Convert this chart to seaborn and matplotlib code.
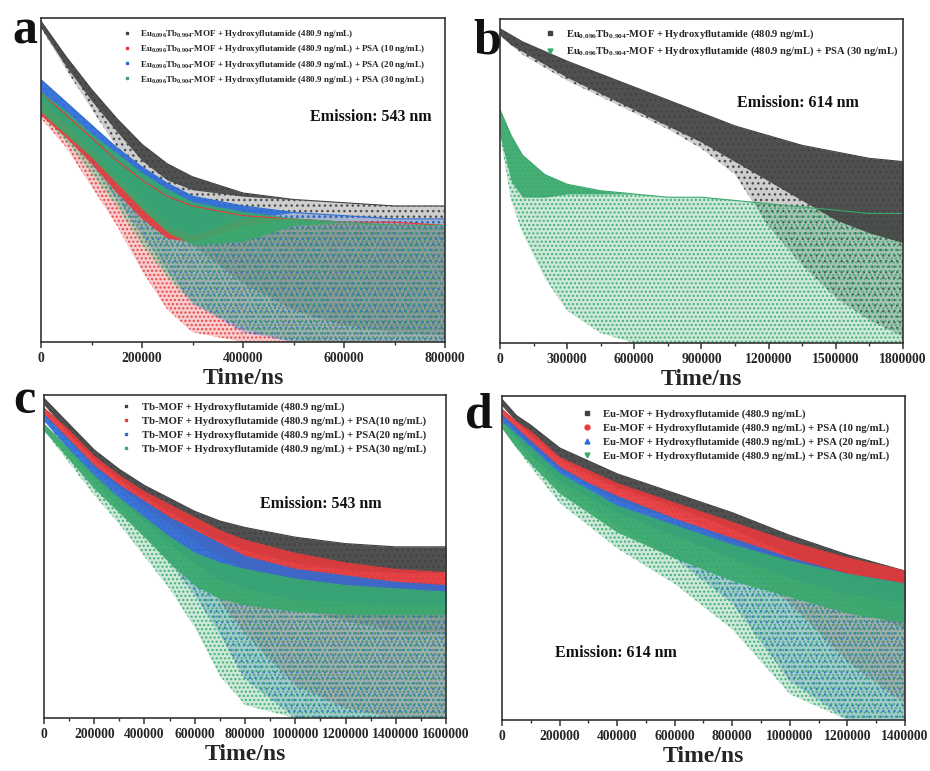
import matplotlib
matplotlib.use("Agg")
import matplotlib.pyplot as plt
from matplotlib.lines import Line2D
from matplotlib.colors import to_rgba
from matplotlib.ticker import MultipleLocator, FuncFormatter
import numpy as np
import seaborn as sns

# ---- data (y = log intensity, normalised to the axis height) ----
# each cloud: hi = upper edge, mid = lower edge of the dense part, lo = lowest scattered points

# panel a (emission 543 nm)
a_time = [0, 50000, 100000, 150000, 200000, 250000, 300000, 400000, 500000, 600000, 700000, 800000]
a_black_hi = [0.99, 0.88, 0.78, 0.69, 0.61, 0.55, 0.51, 0.46, 0.44, 0.43, 0.42, 0.42]
a_black_mid = [0.97, 0.85, 0.745, 0.65, 0.56, 0.50, 0.47, 0.45, 0.44, 0.43, 0.42, 0.42]
a_black_lo = [0.97, 0.84, 0.72, 0.60, 0.50, 0.40, 0.30, 0.18, 0.10, 0.05, 0.03, 0.02]
a_red_hi = [0.77, 0.70, 0.63, 0.56, 0.50, 0.45, 0.42, 0.39, 0.38, 0.37, 0.37, 0.36]
a_red_mid = [0.70, 0.63, 0.55, 0.46, 0.38, 0.32, 0.31, 0.36, 0.38, 0.37, 0.37, 0.36]
a_red_lo = [0.69, 0.60, 0.48, 0.36, 0.22, 0.10, 0.03, 0.0, 0.0, 0.0, 0.0, 0.0]
a_blue_hi = [0.81, 0.74, 0.67, 0.60, 0.54, 0.49, 0.45, 0.42, 0.40, 0.39, 0.38, 0.38]
a_blue_mid = [0.74, 0.67, 0.59, 0.51, 0.43, 0.36, 0.33, 0.38, 0.40, 0.39, 0.38, 0.38]
a_blue_lo = [0.73, 0.65, 0.55, 0.44, 0.33, 0.22, 0.12, 0.03, 0.0, 0.0, 0.0, 0.0]
a_green_hi = [0.77, 0.71, 0.64, 0.58, 0.52, 0.47, 0.43, 0.40, 0.38, 0.37, 0.36, 0.36]
a_green_mid = [0.71, 0.64, 0.57, 0.49, 0.41, 0.34, 0.30, 0.31, 0.36, 0.37, 0.36, 0.36]
a_green_lo = [0.70, 0.62, 0.52, 0.42, 0.30, 0.20, 0.12, 0.04, 0.0, 0.0, 0.0, 0.0]

# panel b (emission 614 nm)
b_time = [0, 50000, 100000, 200000, 300000, 450000, 600000, 750000, 900000,
          1050000, 1200000, 1350000, 1500000, 1650000, 1800000]
b_black_hi = [0.97, 0.95, 0.93, 0.90, 0.87, 0.83, 0.79, 0.75, 0.71, 0.67, 0.64, 0.61, 0.59, 0.57, 0.56]
b_black_mid = [0.95, 0.92, 0.90, 0.86, 0.82, 0.77, 0.72, 0.67, 0.62, 0.56, 0.50, 0.44, 0.38, 0.34, 0.31]
b_black_lo = [0.95, 0.92, 0.89, 0.85, 0.81, 0.76, 0.71, 0.66, 0.60, 0.52, 0.36, 0.24, 0.14, 0.07, 0.02]
b_green_hi = [0.72, 0.64, 0.58, 0.52, 0.49, 0.47, 0.46, 0.45, 0.45, 0.44, 0.43, 0.42, 0.41, 0.40, 0.40]
b_green_mid = [0.64, 0.50, 0.45, 0.45, 0.46, 0.46, 0.46, 0.45, 0.45, 0.44, 0.43, 0.42, 0.41, 0.40, 0.40]
b_green_lo = [0.64, 0.44, 0.34, 0.20, 0.10, 0.03, 0.0, 0.0, 0.0, 0.0, 0.0, 0.0, 0.0, 0.0, 0.0]

# panel c (Tb-MOF, emission 543 nm)
c_time = [0, 100000, 200000, 300000, 400000, 500000, 600000, 700000, 800000,
          1000000, 1200000, 1400000, 1600000]
c_black_hi = [0.99, 0.91, 0.83, 0.77, 0.72, 0.68, 0.64, 0.61, 0.59, 0.56, 0.54, 0.53, 0.53]
c_black_mid = [0.97, 0.88, 0.80, 0.74, 0.685, 0.64, 0.59, 0.55, 0.52, 0.48, 0.46, 0.45, 0.45]
c_black_lo = [0.97, 0.88, 0.80, 0.73, 0.67, 0.61, 0.55, 0.49, 0.43, 0.34, 0.30, 0.27, 0.26]
c_red_hi = [0.96, 0.89, 0.81, 0.75, 0.70, 0.66, 0.62, 0.58, 0.55, 0.51, 0.48, 0.46, 0.45]
c_red_mid = [0.94, 0.86, 0.78, 0.715, 0.655, 0.60, 0.55, 0.50, 0.46, 0.42, 0.40, 0.39, 0.39]
c_red_lo = [0.94, 0.86, 0.77, 0.70, 0.63, 0.55, 0.46, 0.36, 0.26, 0.10, 0.03, 0.0, 0.0]
c_blue_hi = [0.94, 0.86, 0.78, 0.72, 0.67, 0.62, 0.58, 0.54, 0.50, 0.46, 0.44, 0.42, 0.41]
c_blue_mid = [0.92, 0.83, 0.745, 0.675, 0.61, 0.54, 0.48, 0.43, 0.40, 0.37, 0.36, 0.35, 0.35]
c_blue_lo = [0.92, 0.82, 0.73, 0.65, 0.57, 0.48, 0.38, 0.26, 0.12, 0.0, 0.0, 0.0, 0.0]
c_green_hi = [0.91, 0.83, 0.75, 0.68, 0.62, 0.56, 0.51, 0.48, 0.46, 0.43, 0.41, 0.40, 0.39]
c_green_mid = [0.89, 0.80, 0.71, 0.635, 0.56, 0.48, 0.41, 0.37, 0.35, 0.33, 0.32, 0.32, 0.32]
c_green_lo = [0.89, 0.79, 0.69, 0.60, 0.50, 0.40, 0.28, 0.13, 0.04, 0.0, 0.0, 0.0, 0.0]

# panel d (Eu-MOF, emission 614 nm)
d_time = [0, 50000, 100000, 200000, 300000, 400000, 600000, 800000, 1000000, 1200000, 1400000]
d_black_hi = [0.99, 0.94, 0.91, 0.84, 0.80, 0.76, 0.70, 0.64, 0.57, 0.51, 0.46]
d_black_mid = [0.97, 0.92, 0.88, 0.81, 0.76, 0.72, 0.66, 0.59, 0.51, 0.43, 0.36]
d_black_lo = [0.97, 0.92, 0.88, 0.80, 0.75, 0.71, 0.64, 0.56, 0.46, 0.36, 0.28]
d_red_hi = [0.96, 0.92, 0.89, 0.81, 0.77, 0.73, 0.67, 0.61, 0.55, 0.50, 0.46]
d_red_mid = [0.94, 0.89, 0.85, 0.775, 0.73, 0.68, 0.62, 0.55, 0.48, 0.42, 0.37]
d_red_lo = [0.94, 0.89, 0.85, 0.77, 0.72, 0.67, 0.60, 0.50, 0.36, 0.18, 0.05]
d_blue_hi = [0.94, 0.90, 0.86, 0.78, 0.73, 0.69, 0.62, 0.56, 0.50, 0.45, 0.42]
d_blue_mid = [0.92, 0.87, 0.82, 0.74, 0.69, 0.64, 0.57, 0.50, 0.44, 0.39, 0.36]
d_blue_lo = [0.92, 0.86, 0.81, 0.72, 0.66, 0.60, 0.50, 0.36, 0.12, 0.0, 0.0]
d_green_hi = [0.92, 0.88, 0.84, 0.76, 0.71, 0.66, 0.60, 0.54, 0.49, 0.45, 0.42]
d_green_mid = [0.90, 0.84, 0.79, 0.70, 0.64, 0.58, 0.50, 0.43, 0.38, 0.33, 0.30]
d_green_lo = [0.90, 0.84, 0.78, 0.67, 0.60, 0.53, 0.42, 0.28, 0.08, 0.0, 0.0]

EUTB = r"Eu$_{0.096}$Tb$_{0.904}$-MOF"
a_labels = [EUTB + " + Hydroxyflutamide (480.9 ng/mL)",
            EUTB + " + Hydroxyflutamide (480.9 ng/mL) + PSA (10 ng/mL)",
            EUTB + " + Hydroxyflutamide (480.9 ng/mL) + PSA (20 ng/mL)",
            EUTB + " + Hydroxyflutamide (480.9 ng/mL) + PSA (30 ng/mL)"]
b_labels = [EUTB + " + Hydroxyflutamide (480.9 ng/mL)",
            EUTB + " + Hydroxyflutamide (480.9 ng/mL) + PSA (30 ng/mL)"]
c_labels = ["Tb-MOF + Hydroxyflutamide (480.9 ng/mL)",
            "Tb-MOF + Hydroxyflutamide (480.9 ng/mL) + PSA(10 ng/mL)",
            "Tb-MOF + Hydroxyflutamide (480.9 ng/mL) + PSA(20 ng/mL)",
            "Tb-MOF + Hydroxyflutamide (480.9 ng/mL) + PSA(30 ng/mL)"]
d_labels = ["Eu-MOF + Hydroxyflutamide (480.9 ng/mL)",
            "Eu-MOF + Hydroxyflutamide (480.9 ng/mL) + PSA (10 ng/mL)",
            "Eu-MOF + Hydroxyflutamide (480.9 ng/mL) + PSA (20 ng/mL)",
            "Eu-MOF + Hydroxyflutamide (480.9 ng/mL) + PSA (30 ng/mL)"]

BLACK, RED, BLUE, GREEN = "#424242", "#e63a3d", "#2d6cd5", "#39a96c"

sns.set_theme(style="ticks")
plt.rcParams["font.family"] = ["Liberation Serif", "DejaVu Serif"]
plt.rcParams["font.weight"] = "bold"
plt.rcParams["mathtext.fontset"] = "custom"
plt.rcParams["mathtext.rm"] = "Liberation Serif:bold"
plt.rcParams["mathtext.it"] = "Liberation Serif:bold"
plt.rcParams["mathtext.bf"] = "Liberation Serif:bold"
plt.rcParams["hatch.linewidth"] = 1.0


def draw_panel(ax, t, clouds):
    t = np.asarray(t)
    # first the sparse scattered points of every series ...
    for hi, mid, lo, color, hatch in clouds:
        ax.fill_between(t, lo, hi, facecolor=to_rgba(color, 0.26),
                        edgecolor=to_rgba(color, 0.9), hatch=hatch, linewidth=0)
    # ... then the dense part of each decay on top
    for hi, mid, lo, color, hatch in clouds:
        ax.fill_between(t, mid, hi, color=color, alpha=0.9, linewidth=0)
        sns.lineplot(x=t, y=np.asarray(hi), color=color, lw=0.8, ax=ax)


def style_axis(ax, xmax, major, emission, em_xy):
    ax.set_xlim(0, xmax)
    ax.set_ylim(0, 1)
    ax.xaxis.set_major_locator(MultipleLocator(major))
    ax.xaxis.set_minor_locator(MultipleLocator(major / 2))
    ax.xaxis.set_major_formatter(FuncFormatter(lambda v, p: f"{int(round(v))}"))
    ax.tick_params(axis="x", which="major", direction="out", length=4, width=1.1,
                   labelsize=9.8, pad=3, color="#333333")
    ax.tick_params(axis="x", which="minor", direction="out", length=2.5, width=1.0,
                   color="#333333")
    ax.tick_params(axis="y", left=False, labelleft=False)
    for lab in ax.get_xticklabels():
        lab.set_fontweight("bold")
    for sp in ax.spines.values():
        sp.set_visible(True)
        sp.set_linewidth(1.2)
        sp.set_color("#333333")
    ax.set_xlabel("Time/ns", fontsize=17, fontweight="bold", labelpad=2)
    ax.set_ylabel("")
    ax.text(em_xy[0], em_xy[1], emission, transform=ax.transAxes, fontsize=11.5,
            fontweight="bold", va="center", ha="left", color="#111111")


def add_legend(ax, labels, colors, markers, msize, fsize, anchor, spacing):
    handles = [Line2D([], [], ls="none", marker=m, ms=msize, color=c, mec=c)
               for m, c in zip(markers, colors)]
    ax.legend(handles, labels, loc="upper left", bbox_to_anchor=anchor, frameon=False,
              fontsize=fsize, handlelength=0.6, handletextpad=1.2, labelspacing=spacing,
              borderpad=0, borderaxespad=0)


fig = plt.figure(figsize=(9.3, 7.71), dpi=100)
ax_a = fig.add_axes([0.0441, 0.5564, 0.4344, 0.4202])
ax_b = fig.add_axes([0.5376, 0.5551, 0.4333, 0.4202])
ax_c = fig.add_axes([0.0473, 0.0687, 0.4323, 0.4189])
ax_d = fig.add_axes([0.5398, 0.0661, 0.4333, 0.4202])

# a
draw_panel(ax_a, a_time, [(a_black_hi, a_black_mid, a_black_lo, BLACK, "..."),
                          (a_red_hi, a_red_mid, a_red_lo, RED, "...."),
                          (a_blue_hi, a_blue_mid, a_blue_lo, BLUE, "..."),
                          (a_green_hi, a_green_mid, a_green_lo, GREEN, "....")])
style_axis(ax_a, 800000, 200000, "Emission: 543 nm", (0.666, 0.694))
add_legend(ax_a, a_labels, [BLACK, RED, BLUE, GREEN], ["s", "s", "s", "s"], 1.6, 6.5,
           (0.205, 0.968), 0.34)

# b
draw_panel(ax_b, b_time, [(b_black_hi, b_black_mid, b_black_lo, BLACK, "..."),
                          (b_green_hi, b_green_mid, b_green_lo, GREEN, "....")])
style_axis(ax_b, 1800000, 300000, "Emission: 614 nm", (0.588, 0.741))
add_legend(ax_b, b_labels, [BLACK, GREEN], ["s", "v"], 3.5, 7.6, (0.117, 0.974), 0.38)

# c
draw_panel(ax_c, c_time, [(c_black_hi, c_black_mid, c_black_lo, BLACK, "..."),
                          (c_red_hi, c_red_mid, c_red_lo, RED, "...."),
                          (c_blue_hi, c_blue_mid, c_blue_lo, BLUE, "..."),
                          (c_green_hi, c_green_mid, c_green_lo, GREEN, "....")])
style_axis(ax_c, 1600000, 200000, "Emission: 543 nm", (0.537, 0.663))
add_legend(ax_c, c_labels, [BLACK, RED, BLUE, GREEN], ["s", "s", "s", "s"], 1.6, 7.7,
           (0.197, 0.978), 0.40)

# d
draw_panel(ax_d, d_time, [(d_black_hi, d_black_mid, d_black_lo, BLACK, "..."),
                          (d_red_hi, d_red_mid, d_red_lo, RED, "...."),
                          (d_blue_hi, d_blue_mid, d_blue_lo, BLUE, "..."),
                          (d_green_hi, d_green_mid, d_green_lo, GREEN, "....")])
style_axis(ax_d, 1400000, 200000, "Emission: 614 nm", (0.132, 0.207))
add_legend(ax_d, d_labels, [BLACK, RED, BLUE, GREEN], ["s", "o", "^", "v"], 3.5, 7.7,
           (0.203, 0.960), 0.40)

# panel letters
for letter, x, base in [("a", 12, 43), ("b", 473, 53), ("c", 13, 413), ("d", 465, 427)]:
    fig.text(x / 930, 1 - base / 771, letter, fontsize=36, fontweight="bold",
             va="baseline", ha="left", color="#111111")

fig.savefig("out.png", dpi=100)
